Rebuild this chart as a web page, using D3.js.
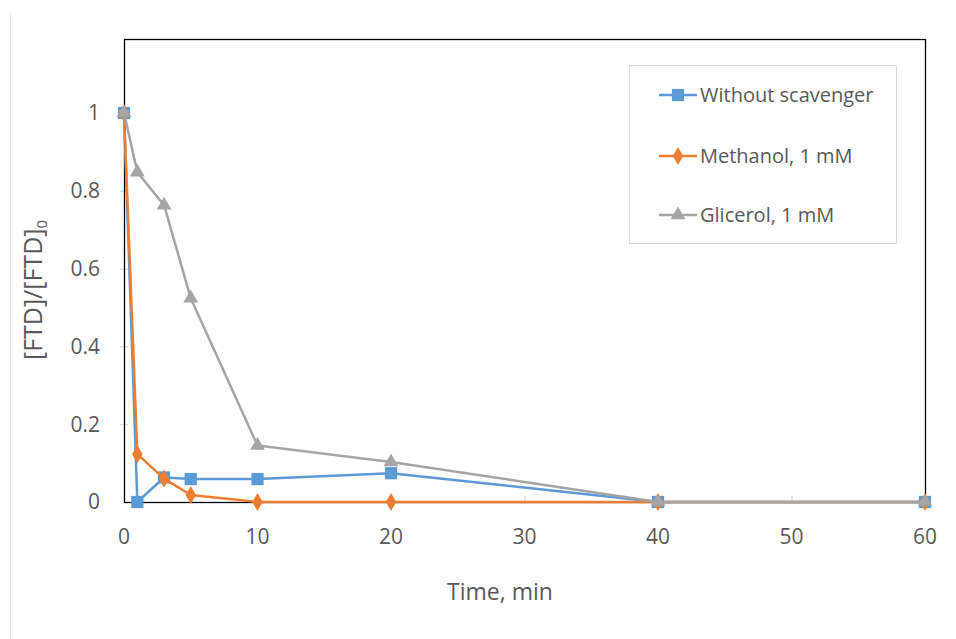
<!DOCTYPE html>
<html>
<head>
<meta charset="utf-8">
<script src="https://cdn.jsdelivr.net/npm/d3@7"></script>
<style>
  body { margin: 0; background: #fff; }
  text { font-family: "Open Sans", "DejaVu Sans", sans-serif; fill: #595959; }
</style>
</head>
<body>
<svg id="chart" width="956" height="639"></svg>
<script>
// time points (min)
const times = [0, 1, 3, 5, 10, 20, 40, 60];
// [FTD]/[FTD]0 for each series
const withoutScavenger = [1, 0, 0.063, 0.059, 0.059, 0.074, 0, 0];
const methanol = [1, 0.123, 0.06, 0.018, 0, 0, 0, 0];
const glicerol = [1, 0.848, 0.763, 0.524, 0.145, 0.103, 0, 0];

const seriesNames = ["Without scavenger", "Methanol, 1 mM", "Glicerol, 1 mM"];
const xTicks = [0, 10, 20, 30, 40, 50, 60];
const yTicks = [0, 0.2, 0.4, 0.6, 0.8, 1];

const colors = ["#5B9BD5", "#ED7D31", "#A5A5A5"];
const symbols = [d3.symbolSquare, d3.symbolDiamond, d3.symbolTriangle];
const symSizes = [150, 95, 95];

const svg = d3.select("#chart");
const plot = { left: 124, right: 925, top: 39, bottom: 502 };

const x = d3.scaleLinear().domain([0, 60]).range([plot.left, plot.right]);
const y = d3.scaleLinear().domain([0, 1]).range([plot.bottom, 113]);

// faint outer chart border (left edge only visible)
svg.append("line")
  .attr("x1", 10.5).attr("x2", 10.5)
  .attr("y1", 13).attr("y2", 639)
  .attr("stroke", "#e6e6e6");

// small tick marks
svg.append("g").selectAll("line")
  .data(yTicks.slice(1))
  .enter().append("line")
    .attr("x1", plot.left - 4).attr("x2", plot.left + 4)
    .attr("y1", d => y(d) + 0.5).attr("y2", d => y(d) + 0.5)
    .attr("stroke", "#d0d0d0");

svg.append("g").selectAll("line")
  .data(xTicks.slice(1, -1))
  .enter().append("line")
    .attr("x1", d => x(d) + 0.5).attr("x2", d => x(d) + 0.5)
    .attr("y1", plot.bottom - 6).attr("y2", plot.bottom)
    .attr("stroke", "#d0d0d0");

// plot frame
svg.append("rect")
  .attr("x", plot.left + 0.5).attr("y", plot.top + 0.5)
  .attr("width", plot.right - plot.left).attr("height", plot.bottom - plot.top)
  .attr("fill", "none")
  .attr("stroke", "#000")
  .attr("stroke-width", 1.3);

// tick labels
svg.append("g").selectAll("text")
  .data(yTicks)
  .enter().append("text")
    .attr("x", 100)
    .attr("y", d => y(d))
    .attr("dy", "0.35em")
    .attr("text-anchor", "end")
    .attr("font-size", 21)
    .text(d => d3.format("~g")(d));

svg.append("g").selectAll("text")
  .data(xTicks)
  .enter().append("text")
    .attr("x", d => x(d))
    .attr("y", 537)
    .attr("dy", "0.35em")
    .attr("text-anchor", "middle")
    .attr("font-size", 21)
    .text(d => d);

// axis titles
svg.append("text")
  .attr("x", 500).attr("y", 592)
  .attr("dy", "0.35em")
  .attr("text-anchor", "middle")
  .attr("font-size", 23)
  .text("Time, min");

const yTitle = svg.append("text")
  .attr("transform", "translate(42,290) rotate(-90)")
  .attr("text-anchor", "middle")
  .attr("font-size", 25);
yTitle.append("tspan").text("[FTD]/[FTD]");
yTitle.append("tspan").attr("font-size", 15).attr("dy", 5).text("0");

// series, later ones on top (gray over orange over blue)
const allSeries = [withoutScavenger, methanol, glicerol];
const line = d3.line()
  .x((d, i) => x(times[i]))
  .y(d => y(d));

allSeries.forEach((vals, s) => {
  const g = svg.append("g");
  g.append("path")
    .datum(vals)
    .attr("d", line)
    .attr("fill", "none")
    .attr("stroke", colors[s])
    .attr("stroke-width", 2.5)
    .attr("stroke-linejoin", "round");
  g.selectAll("path.m")
    .data(vals)
    .enter().append("path")
      .attr("class", "m")
      .attr("d", d3.symbol().type(symbols[s]).size(symSizes[s]))
      .attr("transform", (d, i) => `translate(${x(times[i])},${y(d)})`)
      .attr("fill", colors[s]);
});

// legend
const legend = svg.append("g");
legend.append("rect")
  .attr("x", 629.5).attr("y", 65.5)
  .attr("width", 267).attr("height", 178)
  .attr("fill", "#fff")
  .attr("stroke", "#d9d9d9");

const legendY = [95, 156, 215];
seriesNames.forEach((name, s) => {
  const row = legend.append("g").attr("transform", `translate(0,${legendY[s]})`);
  row.append("line")
    .attr("x1", 659).attr("x2", 697)
    .attr("stroke", colors[s])
    .attr("stroke-width", 2.5);
  row.append("path")
    .attr("d", d3.symbol().type(symbols[s]).size(symSizes[s]))
    .attr("transform", "translate(678,0)")
    .attr("fill", colors[s]);
  row.append("text")
    .attr("x", 700)
    .attr("dy", "0.35em")
    .attr("font-size", 20)
    .text(name);
});
</script>
</body>
</html>
